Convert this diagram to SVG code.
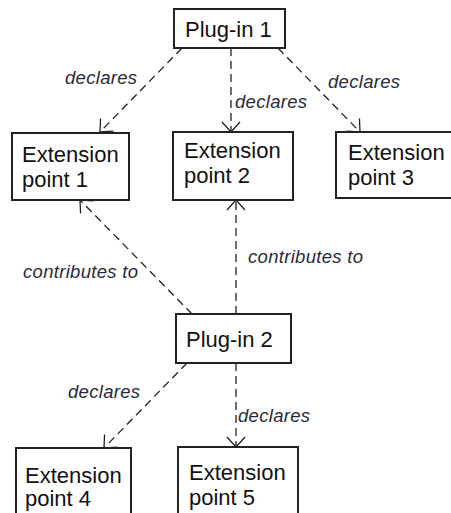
<svg xmlns="http://www.w3.org/2000/svg" width="451" height="513" viewBox="0 0 451 513">
<defs>
<style>
.box{fill:#fff;stroke:#222;stroke-width:2}
.t{font-family:"Liberation Sans",Arial,sans-serif;font-size:22px;fill:#111}
.lbl{font-family:"Liberation Sans",Arial,sans-serif;font-size:18.5px;font-style:italic;fill:#2a2a3a;letter-spacing:0.3px}
.edge{fill:none;stroke:#222;stroke-width:1.3;stroke-dasharray:8,5}
</style>
<marker id="arr" viewBox="-14 -12 16 24" markerWidth="16" markerHeight="24" refX="0" refY="0" orient="auto" markerUnits="userSpaceOnUse">
<path d="M-10,-9 L0,0 L-10,9" fill="none" stroke="#222" stroke-width="1.3"/>
</marker>
</defs>
<rect width="451" height="513" fill="#fff"/>
<g id="connectors">
<line class="edge" x1="182" y1="48" x2="100" y2="132" marker-end="url(#arr)"/>
<line class="edge" x1="231" y1="48" x2="231" y2="132" marker-end="url(#arr)"/>
<line class="edge" x1="278" y1="48" x2="360" y2="132" marker-end="url(#arr)"/>
<line class="edge" x1="192" y1="314" x2="80" y2="200" marker-end="url(#arr)"/>
<line class="edge" x1="236" y1="314" x2="236" y2="200" marker-end="url(#arr)"/>
<line class="edge" x1="187" y1="363" x2="104" y2="448" marker-end="url(#arr)"/>
<line class="edge" x1="236" y1="363" x2="236" y2="447" marker-end="url(#arr)"/>
<text class="lbl" x="65" y="84">declares</text>
<text class="lbl" x="235" y="108">declares</text>
<text class="lbl" x="328" y="88">declares</text>
<text class="lbl" x="23" y="278">contributes to</text>
<text class="lbl" x="248" y="263">contributes to</text>
<text class="lbl" x="68" y="398">declares</text>
<text class="lbl" x="238" y="422">declares</text>
</g>
<g id="plugin1">
<rect class="box" x="174" y="9" width="111" height="39"/>
<text class="t" x="185" y="37">Plug-in 1</text>
</g>
<g id="ext1">
<rect class="box" x="12" y="133" width="117" height="67"/>
<text class="t" x="22" y="162">Extension</text>
<text class="t" x="22" y="187">point 1</text>
</g>
<g id="ext2">
<rect class="box" x="173" y="132" width="120" height="68"/>
<text class="t" x="184" y="158">Extension</text>
<text class="t" x="184" y="183">point 2</text>
</g>
<g id="ext3">
<rect class="box" x="336" y="132" width="130" height="66"/>
<text class="t" x="348" y="160">Extension</text>
<text class="t" x="348" y="185">point 3</text>
</g>
<g id="plugin2">
<rect class="box" x="176" y="314" width="115" height="49"/>
<text class="t" x="186" y="347">Plug-in 2</text>
</g>
<g id="ext4">
<rect class="box" x="16" y="448" width="115" height="80"/>
<text class="t" x="25" y="483">Extension</text>
<text class="t" x="25" y="506">point 4</text>
</g>
<g id="ext5">
<rect class="box" x="178" y="447" width="120" height="80"/>
<text class="t" x="189" y="480">Extension</text>
<text class="t" x="189" y="505">point 5</text>
</g>
</svg>
